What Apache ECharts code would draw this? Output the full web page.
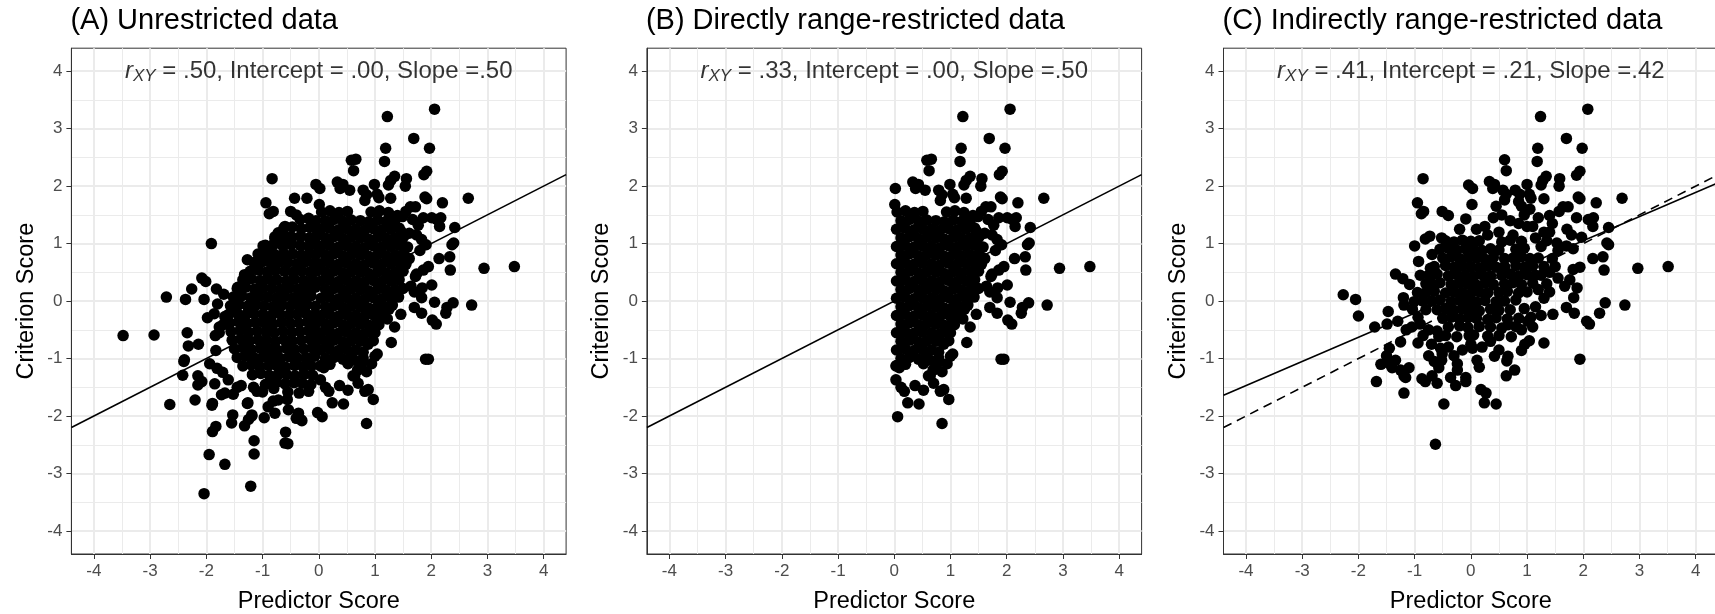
<!DOCTYPE html>
<html><head><meta charset="utf-8">
<script src="https://cdn.jsdelivr.net/npm/echarts@6/dist/echarts.min.js"></script>
<style>html,body{margin:0;padding:0;background:#fff}#chart{width:1715px;height:614px}</style>
</head><body><div id="chart"></div>
<script>
// ---------------- data ----------------
const panelTitles = ['(A) Unrestricted data', '(B) Directly range-restricted data', '(C) Indirectly range-restricted data'];
const corrLabels = ['.50', '.33', '.41'];
const interceptLabels = ['.00', '.00', '.21'];
const slopeLabels = ['.50', '.50', '.42'];
const fitIntercepts = [0.00, 0.00, 0.21];
const fitSlopes = [0.50, 0.50, 0.42];
const populationLine = [0.00, 0.50]; // intercept, slope (dashed reference in C)
const majorTicks = [-4, -3, -2, -1, 0, 1, 2, 3, 4];
const minorTicks = [-3.5, -2.5, -1.5, -0.5, 0.5, 1.5, 2.5, 3.5];
const axisLimits = [-4.4, 4.4];
const annotationAnchor = [0, 4];

// unrestricted sample, predictor < 0
const unrestrictedNeg = [
[-0.83,2.13],[-0.94,1.71],[-0.88,1.52],[-0.81,1.56],[-0.43,1.79],[-0.21,1.79],[-0.05,2.03],[-0.5,1.56],[-0.4,1.5],[-0.6,1.3],
[-0.72,1.19],[-0.78,1.09],[-0.51,1.12],[-0.61,1.02],[-0.99,0.96],[-0.85,0.89],[-1.91,1.0],[-1.27,0.72],[-1.02,0.68],[-0.9,0.8],
[-1.32,0.46],[-1.44,0.24],[-2.08,0.4],[-2.01,0.34],[-2.26,0.21],[-2.37,0.03],[-1.82,0.21],[-1.69,0.12],[-2.04,0.03],[-1.8,-0.05],
[-2.71,0.07],[-1.98,-0.29],[-1.86,-0.22],[-1.67,-0.27],[-3.48,-0.6],[-2.93,-0.59],[-2.34,-0.55],[-1.77,-0.45],[-1.7,-0.41],[-1.84,-0.6],
[-1.77,-0.55],[-2.32,-0.78],[-2.14,-0.75],[-2.39,-1.02],[-2.4,-1.05],[-2.42,-1.29],[-2.15,-1.3],[-2.08,-1.4],[-2.15,-1.46],[-1.85,-1.44],
[-2.2,-1.72],[-2.65,-1.8],[-1.89,-1.78],[-1.9,-1.81],[-1.94,-1.09],[-1.81,-1.17],[-1.71,-1.24],[-1.83,-0.86],[-1.73,-1.63],[-1.67,-1.6],
[-1.61,-1.37],[-1.53,-1.98],[-1.55,-2.12],[-1.32,-2.17],[-1.25,-2.06],[-1.19,-2.0],[-1.83,-2.18],[-1.89,-2.27],[-1.95,-2.67],[-1.67,-2.84],
[-2.04,-3.35],[-1.21,-3.22],[-1.15,-2.43],[-1.15,-2.66],[-0.59,-2.28],[-0.6,-2.47],[-0.55,-2.48],[-0.97,-2.03],[-0.78,-1.95],[-0.9,-1.84],
[-1.27,-1.78],[-1.19,-1.98],[-0.81,-1.74],[-0.72,-1.72],[-0.54,-1.89],[-0.36,-1.95],[-0.32,-2.06],[-0.02,-1.94],[-1.38,-1.47],[-1.45,-1.5],
[-1.16,-1.5],[-1.1,-1.57],[-0.56,-1.71],[-0.4,-2.04],[-0.3,-2.08],[-1.26,-1.77],[-1.52,-1.62],[-1.0,-1.58],[-0.95,-1.45],[-0.8,-1.52],
[-0.33,1.42],[-0.18,1.44],[-0.05,1.4],
[-0.62,1.27],[-0.47,1.29],[-0.31,1.26],[-0.16,1.28],[-0.04,1.25],
[-0.78,1.12],[-0.63,1.14],[-0.47,1.11],[-0.32,1.13],[-0.17,1.1],[-0.05,1.12],
[-0.95,0.97],[-0.8,0.99],[-0.64,0.96],[-0.49,0.98],[-0.33,0.97],[-0.18,0.95],[-0.04,0.98],
[-1.08,0.82],[-0.93,0.84],[-0.78,0.81],[-0.62,0.83],[-0.46,0.82],[-0.31,0.8],[-0.16,0.83],[-0.05,0.81],
[-1.15,0.67],[-1.0,0.69],[-0.85,0.66],[-0.7,0.68],[-0.55,0.67],[-0.39,0.65],[-0.24,0.68],[-0.09,0.66],
[-1.22,0.52],[-1.07,0.54],[-0.92,0.51],[-0.77,0.53],[-0.61,0.52],[-0.46,0.5],[-0.31,0.53],[-0.16,0.51],[-0.04,0.52],
[-1.35,0.37],[-1.2,0.39],[-1.04,0.36],[-0.89,0.38],[-0.74,0.37],[-0.58,0.35],[-0.43,0.38],[-0.27,0.36],[-0.12,0.37],
[-1.45,0.22],[-1.3,0.24],[-1.14,0.21],[-0.99,0.23],[-0.83,0.22],[-0.68,0.2],[-0.52,0.23],[-0.37,0.21],[-0.21,0.22],[-0.06,0.24],
[-1.52,0.07],[-1.37,0.09],[-1.21,0.06],[-1.06,0.08],[-0.91,0.07],[-0.76,0.05],[-0.6,0.08],[-0.45,0.06],[-0.29,0.07],[-0.14,0.09],
[-1.57,-0.08],[-1.42,-0.06],[-1.27,-0.09],[-1.12,-0.07],[-0.97,-0.08],[-0.82,-0.1],[-0.66,-0.07],[-0.51,-0.09],[-0.36,-0.08],[-0.21,-0.06],[-0.06,-0.09],
[-1.6,-0.23],[-1.45,-0.21],[-1.3,-0.24],[-1.15,-0.22],[-0.99,-0.23],[-0.84,-0.25],[-0.69,-0.22],[-0.53,-0.24],[-0.38,-0.23],[-0.23,-0.21],[-0.08,-0.24],
[-1.58,-0.38],[-1.43,-0.36],[-1.27,-0.39],[-1.12,-0.37],[-0.97,-0.38],[-0.81,-0.4],[-0.66,-0.37],[-0.5,-0.39],[-0.35,-0.38],[-0.2,-0.36],[-0.05,-0.39],
[-1.56,-0.53],[-1.4,-0.51],[-1.25,-0.54],[-1.1,-0.52],[-0.94,-0.53],[-0.79,-0.55],[-0.64,-0.52],[-0.48,-0.54],[-0.33,-0.53],[-0.18,-0.51],[-0.04,-0.54],
[-1.54,-0.68],[-1.39,-0.66],[-1.23,-0.69],[-1.08,-0.67],[-0.93,-0.68],[-0.77,-0.7],[-0.62,-0.67],[-0.47,-0.69],[-0.31,-0.68],[-0.16,-0.66],[-0.04,-0.7],
[-1.5,-0.83],[-1.35,-0.81],[-1.2,-0.84],[-1.04,-0.82],[-0.89,-0.83],[-0.74,-0.85],[-0.58,-0.82],[-0.43,-0.84],[-0.27,-0.83],[-0.12,-0.81],
[-1.45,-0.98],[-1.3,-0.96],[-1.14,-0.99],[-0.99,-0.97],[-0.84,-0.98],[-0.68,-1.0],[-0.53,-0.97],[-0.38,-0.99],[-0.22,-0.98],[-0.07,-0.96],
[-1.35,-1.13],[-1.2,-1.11],[-1.05,-1.14],[-0.89,-1.12],[-0.74,-1.13],[-0.59,-1.15],[-0.43,-1.12],[-0.28,-1.14],[-0.13,-1.13],
[-1.18,-1.28],[-1.03,-1.26],[-0.88,-1.29],[-0.72,-1.27],[-0.57,-1.28],[-0.42,-1.3],[-0.26,-1.27],[-0.11,-1.29],
[-0.9,-1.43],[-0.75,-1.41],[-0.6,-1.44],[-0.44,-1.42],[-0.29,-1.43],[-0.14,-1.45],
[-0.55,-1.58],[-0.35,-1.6],[-0.18,-1.57]
];

// unrestricted sample, predictor >= 0 (this is also the directly restricted sample)
const unrestrictedPos = [
[2.06,3.34],[1.22,3.21],[1.69,2.83],[1.97,2.66],[1.19,2.66],[1.17,2.43],[0.58,2.45],[0.66,2.47],[0.62,2.27],[1.92,2.26],
[1.87,2.2],[1.35,2.17],[1.28,2.1],[1.24,2.02],[1.56,2.13],[1.54,2.0],[0.99,2.03],[0.33,2.07],[0.43,2.03],[0.38,1.96],
[0.02,1.96],[0.01,1.68],[0.55,1.93],[0.79,1.93],[0.85,1.85],[0.82,1.75],[1.04,1.86],[1.07,1.8],[1.28,1.79],[1.89,1.81],
[1.92,1.78],[2.66,1.79],[2.2,1.71],[1.63,1.64],[1.72,1.64],[1.55,1.56],[1.49,1.47],[1.4,1.49],[2.1,1.42],[2.17,1.45],
[2.15,1.3],[1.86,1.45],[2.42,1.28],[2.4,1.01],[2.37,0.98],[2.14,0.74],[2.33,0.77],[2.34,0.54],[2.94,0.57],[3.48,0.6],
[2.01,0.28],[2.06,-0.02],[2.39,-0.03],[2.28,-0.11],[2.26,-0.21],[2.72,-0.07],[2.02,-0.33],[2.09,-0.4],[1.7,-0.11],[1.83,-0.21],
[1.9,-1.01],[1.95,-1.01],[1.46,-0.23],[1.35,-0.45],[1.29,-0.72],[1.0,-0.96],[0.85,-2.13],[0.88,-1.54],[0.97,-1.71],[0.82,-1.57],
[0.44,-1.79],[0.37,-1.47],[0.52,-1.55],[0.24,-1.77],[0.18,-1.57],[0.12,-1.5],[0.03,-1.37],[0.06,-2.01],[0.61,-1.3],[0.69,-1.2],
[0.76,-1.09],[0.79,-0.99],[0.52,-1.09],[0.64,-1.03],[0.03,-1.13],[0.09,-1.16],
[1.74,1.15],[1.83,1.07],[1.91,0.98],[1.8,0.88],[1.74,0.47],[1.86,0.54],[1.95,0.6],[1.72,0.43],[1.64,0.26],[1.7,0.16],
[1.83,0.06],[1.84,0.23],[1.61,0.74],[1.49,0.98],[1.43,0.74],[1.46,1.22],[1.52,1.15],[1.61,1.18],[1.67,1.42],[1.77,1.32],[2.01,1.45],
[1.25,-0.14],[1.31,-0.07],[1.16,-0.21],[1.1,-0.28],[1.22,-0.31],[1.07,-0.41],[1.0,-0.55],[0.97,-0.69],[0.88,-0.75],[0.79,-0.89],
[1.04,-0.92],[0.94,-1.09],[0.85,-1.23],[0.7,-1.43],[0.64,-1.3],
[0.05,1.55],[0.2,1.57],[0.36,1.54],[0.51,1.56],[0.93,1.55],[1.08,1.57],[1.24,1.54],
[0.12,1.4],[0.27,1.42],[0.43,1.39],[0.58,1.41],[0.74,1.4],[0.89,1.38],[1.05,1.41],[1.2,1.39],[1.35,1.4],
[0.04,1.25],[0.19,1.27],[0.35,1.24],[0.5,1.26],[0.66,1.25],[0.81,1.23],[0.97,1.26],[1.12,1.24],[1.28,1.25],[1.43,1.27],
[0.12,1.1],[0.27,1.12],[0.43,1.09],[0.58,1.11],[0.74,1.1],[0.89,1.08],[1.05,1.11],[1.2,1.09],[1.36,1.1],[1.51,1.12],
[0.04,0.95],[0.19,0.97],[0.35,0.94],[0.5,0.96],[0.66,0.95],[0.81,0.93],[0.97,0.96],[1.12,0.94],[1.28,0.95],[1.43,0.97],[1.58,0.94],
[0.12,0.8],[0.27,0.82],[0.43,0.79],[0.58,0.81],[0.74,0.8],[0.89,0.78],[1.05,0.81],[1.2,0.79],[1.36,0.8],[1.51,0.82],
[0.04,0.65],[0.19,0.67],[0.35,0.64],[0.5,0.66],[0.66,0.65],[0.81,0.63],[0.97,0.66],[1.12,0.64],[1.28,0.65],[1.43,0.67],[1.55,0.64],
[0.12,0.5],[0.27,0.52],[0.43,0.49],[0.58,0.51],[0.74,0.5],[0.89,0.48],[1.05,0.51],[1.2,0.49],[1.36,0.5],[1.5,0.52],
[0.04,0.35],[0.19,0.37],[0.35,0.34],[0.5,0.36],[0.66,0.35],[0.81,0.33],[0.97,0.36],[1.12,0.34],[1.28,0.35],[1.43,0.37],
[0.12,0.2],[0.27,0.22],[0.43,0.19],[0.58,0.21],[0.74,0.2],[0.89,0.18],[1.05,0.21],[1.2,0.19],[1.36,0.2],[1.5,0.22],
[0.04,0.05],[0.19,0.07],[0.35,0.04],[0.5,0.06],[0.66,0.05],[0.81,0.03],[0.97,0.06],[1.12,0.04],[1.28,0.05],[1.42,0.07],
[0.12,-0.1],[0.27,-0.08],[0.43,-0.11],[0.58,-0.09],[0.74,-0.1],[0.89,-0.12],[1.05,-0.09],[1.2,-0.11],
[0.04,-0.25],[0.19,-0.23],[0.35,-0.26],[0.5,-0.24],[0.66,-0.25],[0.81,-0.27],[0.97,-0.24],[1.1,-0.26],
[0.12,-0.4],[0.27,-0.38],[0.43,-0.41],[0.58,-0.39],[0.74,-0.4],[0.89,-0.42],[1.02,-0.39],
[0.04,-0.55],[0.19,-0.53],[0.35,-0.56],[0.5,-0.54],[0.66,-0.55],[0.81,-0.57],[0.95,-0.54],
[0.12,-0.7],[0.27,-0.68],[0.43,-0.71],[0.58,-0.69],[0.74,-0.7],[0.86,-0.72],
[0.04,-0.85],[0.19,-0.83],[0.35,-0.86],[0.5,-0.84],[0.66,-0.85],
[0.12,-1.0],[0.27,-0.98],[0.43,-1.01],[0.56,-0.99],
[0.04,-1.12],[0.2,-1.1]
];

// indirectly range-restricted sample
const indirectSample = [
[2.08,3.34],[1.24,3.21],[1.7,2.83],[1.98,2.66],[1.19,2.66],[1.18,2.43],[0.6,2.46],[0.63,2.27],[1.94,2.26],[1.88,2.19],
[1.34,2.17],[1.28,2.1],[1.25,2.02],[1.58,2.13],[1.57,2.0],[1.0,2.03],[0.33,2.08],[0.42,2.03],[0.39,1.96],[-0.04,2.02],
[0.03,1.96],[0.02,1.68],[-0.85,2.13],[-0.95,1.71],[-0.88,1.52],[-0.84,1.56],[-0.51,1.56],[-0.4,1.49],[-0.09,1.43],[0.57,1.93],
[0.63,1.86],[0.6,1.76],[0.79,1.93],[0.87,1.86],[0.85,1.73],[1.04,1.86],[1.07,1.79],[1.3,1.78],[1.91,1.81],[1.94,1.78],
[2.69,1.79],[2.23,1.71],[1.64,1.64],[1.73,1.64],[1.57,1.56],[1.4,1.49],[2.09,1.42],[2.18,1.45],[2.17,1.3],[1.88,1.45],
[2.45,1.28],[2.42,1.01],[2.45,0.98],[2.17,0.74],[2.35,0.77],[2.37,0.54],[2.97,0.57],[3.51,0.6],[1.89,0.23],[1.83,0.06],
[2.39,-0.03],[2.29,-0.21],[2.74,-0.07],[2.06,-0.35],[2.11,-0.4],[1.7,-0.11],[1.84,-0.21],[1.94,-1.01],[1.46,-0.23],[1.3,-0.73],
[0.66,-0.96],[0.42,-0.96],[0.11,-1.03],[0.18,-1.54],[0.27,-1.6],[0.24,-1.77],[0.45,-1.79],[-0.63,-2.49],[-0.48,-1.79],[-1.19,-1.6],
[-1.68,-1.4],[-2.27,0.11],[-2.05,0.03],[-2.0,-0.26],[-1.71,-0.45],[-1.47,-0.18],[-1.49,-0.4],[-1.45,-0.82],[-1.45,-1.09],[-1.4,-1.16],
[-1.34,-1.03],[-1.25,-1.2],[-1.19,-1.3],[-1.16,-1.33],[-1.25,-0.71],[-1.34,0.47],[-1.21,0.39],[-1.09,0.29],[-1.2,0.06],[-1.19,-0.07],
[-1.01,-0.01],[-1.04,-0.14],[-0.94,-0.28],[-1.1,-1.16],[-1.0,0.96],[-0.93,0.69],[-0.69,0.81],[-0.73,1.13],[-0.81,1.08],[-0.52,1.1],
[-0.72,0.57],[-0.73,0.35],[-0.94,-0.73],[-0.87,-1.35],[-0.81,-1.4],[-0.69,-1.3],[-0.6,-1.43],[-0.57,-1.16],[-0.52,-1.03],[-0.51,-0.92],
[-0.54,-0.82],[-0.57,-0.62],[-0.6,-0.52],[-0.36,-1.33],[-0.27,-1.47],[-0.24,-1.2],[-0.24,-1.09],[-0.09,-1.33],[-0.09,-1.4],[0.0,-0.75],
[0.03,-0.82],[-0.03,-0.6],[0.63,-1.3],[0.64,-1.04],[0.78,-1.2],[0.9,-0.86],[0.96,-0.75],[1.04,-0.69],[0.72,-0.62],[0.66,-0.41],
[1.01,-0.35],[1.07,-0.28],[1.4,0.16],[1.67,0.26],[1.76,0.37],[1.82,0.55],[1.94,0.59],[1.45,0.74],[1.55,0.88],[1.53,1.01],
[1.7,0.96],[1.82,0.91],[1.97,1.11],[1.79,1.15],[1.71,1.25],
[1.1,1.3],[1.2,1.45],[1.3,1.2],[1.35,1.05],[1.25,0.95],[1.15,1.1],[1.45,1.35],[1.4,1.2],[1.2,0.75],[1.3,0.6],
[1.25,0.45],[1.4,0.5],[1.5,0.6],[1.35,0.3],[1.55,0.4],[1.2,0.2],[1.3,0.05],[1.15,-0.1],[1.25,-0.25],[1.1,-0.45],
[0.9,-0.5],[1.0,1.3],[0.85,1.35],[0.7,1.4],[0.55,1.5],[0.4,1.45],[0.25,1.3],[0.5,1.2],[0.3,1.15],[0.1,1.25],
[-0.2,1.25],[0.75,1.15],[0.95,1.5],[1.05,1.6],[0.9,1.65],[0.45,1.65],
[-0.9,0.45],[-0.8,0.3],[-0.95,0.15],[-0.85,0.0],[-0.8,-0.15],[-0.9,-0.4],[-0.75,-0.5],[-0.85,-0.6],[-1.05,-0.45],[-0.7,-0.75],
[-0.75,-0.95],[-0.65,-1.05],[-0.4,-0.8],[-0.3,-0.95],[-0.15,-0.85],[0.2,-0.8],[0.35,-0.7],[0.5,-0.85],[0.15,-1.15],[-1.3,-0.35],
[-1.15,-0.5],[-1.6,-1.1],[-1.5,-0.95],
[-0.45,1.05],[-0.3,1.03],[-0.15,1.06],[0.0,1.04],[0.15,1.05],[0.55,1.03],[0.7,1.06],[0.9,1.04],
[-0.55,0.9],[-0.4,0.92],[-0.25,0.89],[-0.1,0.91],[0.05,0.9],[0.2,0.88],[0.35,0.91],[0.5,0.89],[0.8,0.9],[0.95,0.92],
[-0.5,0.75],[-0.35,0.77],[-0.2,0.74],[-0.05,0.76],[0.1,0.75],[0.25,0.73],[0.4,0.76],[0.6,0.74],[0.75,0.75],[0.9,0.77],[1.05,0.74],
[-0.65,0.6],[-0.45,0.62],[-0.3,0.59],[-0.15,0.61],[0.0,0.6],[0.15,0.58],[0.3,0.61],[0.45,0.59],[0.6,0.6],[0.8,0.62],[0.95,0.59],[1.1,0.61],
[-0.75,0.45],[-0.6,0.47],[-0.4,0.44],[-0.25,0.46],[-0.1,0.45],[0.05,0.43],[0.2,0.46],[0.35,0.44],[0.55,0.45],[0.7,0.47],[0.85,0.44],[1.0,0.46],[1.15,0.45],
[-0.7,0.3],[-0.55,0.32],[-0.35,0.29],[-0.2,0.31],[-0.05,0.3],[0.1,0.28],[0.25,0.31],[0.4,0.29],[0.6,0.3],[0.75,0.32],[0.9,0.29],[1.1,0.31],
[-0.8,0.15],[-0.65,0.17],[-0.45,0.14],[-0.3,0.16],[-0.15,0.15],[0.0,0.13],[0.15,0.16],[0.3,0.14],[0.5,0.15],[0.65,0.17],[0.85,0.14],[1.0,0.16],
[-0.7,0.0],[-0.55,0.02],[-0.35,-0.01],[-0.2,0.01],[-0.05,0.0],[0.1,-0.02],[0.25,0.01],[0.45,-0.01],[0.6,0.0],[0.8,0.02],
[-0.6,-0.15],[-0.45,-0.13],[-0.3,-0.16],[-0.15,-0.14],[0.0,-0.15],[0.15,-0.17],[0.35,-0.14],[0.5,-0.16],[0.7,-0.15],[0.95,-0.13],
[-0.5,-0.3],[-0.35,-0.28],[-0.2,-0.31],[-0.05,-0.29],[0.1,-0.3],[0.3,-0.32],[0.45,-0.29],[0.65,-0.31],[0.85,-0.3],
[-0.4,-0.45],[-0.2,-0.43],[-0.05,-0.46],[0.15,-0.44],[0.35,-0.45],[0.55,-0.47],[0.8,-0.44],
[-0.45,-0.6],[-0.25,-0.62],[0.05,-0.59],[0.3,-0.61],[0.5,-0.6]
];

// ---------------- chart ----------------
const panelData = [unrestrictedNeg.concat(unrestrictedPos), unrestrictedPos, indirectSample];
const FONT = '"Liberation Sans", Arial, Helvetica, sans-serif';
const gridLefts = [71.4, 646.9, 1223.5];
const gridTop = 48.2, gridW = 494.7, gridH = 505.8;

const chart = echarts.init(document.getElementById('chart'), null, {renderer: 'canvas'});

const grids = [], xAxes = [], yAxes = [], series = [], titles = [];
function lineEnds(b, m) { return axisLimits.map(x => [x, b + m * x]); }

for (let i = 0; i < 3; i++) {
  grids.push({left: gridLefts[i], top: gridTop, width: gridW, height: gridH, show: true,
              borderColor: '#333333', borderWidth: 1, backgroundColor: 'transparent',
              containLabel: false, outerBoundsMode: 'none'});
  titles.push({text: panelTitles[i], left: gridLefts[i] - 1, top: 6, padding: 0,
               textStyle: {fontFamily: FONT, fontSize: 29, fontWeight: 'normal', color: '#000'}});
  const common = {type: 'value', gridIndex: i, min: axisLimits[0], max: axisLimits[1]};
  xAxes.push(Object.assign({}, common, {
    position: 'bottom',
    axisLine: {show: true, onZero: false, lineStyle: {color: '#333333', width: 1}},
    axisTick: {show: true, customValues: majorTicks, length: 5, lineStyle: {color: '#333333', width: 1}},
    axisLabel: {show: true, customValues: majorTicks, color: '#4D4D4D', fontSize: 17, margin: 9, fontFamily: FONT},
    splitLine: {show: true, lineStyle: {color: '#EBEBEB', width: 2}},
    name: 'Predictor Score', nameLocation: 'middle', nameGap: 36,
    nameTextStyle: {fontSize: 23.5, color: '#000', fontFamily: FONT}
  }));
  yAxes.push(Object.assign({}, common, {
    position: 'left',
    axisLine: {show: true, onZero: false, lineStyle: {color: '#333333', width: 1}},
    axisTick: {show: true, customValues: majorTicks, length: 5, lineStyle: {color: '#333333', width: 1}},
    axisLabel: {show: true, customValues: majorTicks, color: '#4D4D4D', fontSize: 17, margin: 9, fontFamily: FONT},
    splitLine: {show: true, lineStyle: {color: '#EBEBEB', width: 2}},
    name: 'Criterion Score', nameLocation: 'middle', nameGap: 33,
    nameTextStyle: {fontSize: 23.5, color: '#000', fontFamily: FONT}
  }));
  xAxes.push(Object.assign({}, common, {
    position: 'top',
    axisLine: {show: false, onZero: false}, axisLabel: {show: false},
    axisTick: {show: false, customValues: minorTicks},
    splitLine: {show: true, lineStyle: {color: '#EBEBEB', width: 1}}
  }));
  yAxes.push(Object.assign({}, common, {
    position: 'right',
    axisLine: {show: false, onZero: false}, axisLabel: {show: false},
    axisTick: {show: false, customValues: minorTicks},
    splitLine: {show: true, lineStyle: {color: '#EBEBEB', width: 1}}
  }));

  const xi = 2 * i, yi = 2 * i;
  series.push({
    type: 'scatter', xAxisIndex: xi, yAxisIndex: yi, data: panelData[i],
    symbol: 'circle', symbolSize: 11.5, itemStyle: {color: '#000', opacity: 1},
    silent: true, z: 2, animation: false, large: false
  });
  if (i === 2) {
    series.push({
      type: 'line', xAxisIndex: xi, yAxisIndex: yi, data: lineEnds(populationLine[0], populationLine[1]),
      showSymbol: false, symbol: 'none', silent: true, z: 3, animation: false,
      lineStyle: {color: '#000', width: 1.6, type: [9, 6]}
    });
  }
  series.push({
    type: 'line', xAxisIndex: xi, yAxisIndex: yi, data: lineEnds(fitIntercepts[i], fitSlopes[i]),
    showSymbol: false, symbol: 'none', silent: true, z: 3, animation: false,
    lineStyle: {color: '#000', width: 1.6}
  });
  series.push({
    type: 'scatter', xAxisIndex: xi, yAxisIndex: yi, data: [annotationAnchor],
    symbolSize: 0, silent: true, z: 4, animation: false,
    label: {
      show: true, position: 'inside', fontFamily: FONT,
      formatter: '{r|r}{s|XY}{t| = ' + corrLabels[i] + ', Intercept = ' + interceptLabels[i] + ', Slope =' + slopeLabels[i] + '}',
      rich: {
        r: {fontSize: 24, fontStyle: 'italic', color: '#000', fontFamily: FONT},
        s: {fontSize: 17, fontStyle: 'italic', color: '#000', fontFamily: FONT, padding: [10, 0, 0, 0]},
        t: {fontSize: 24, color: '#000', fontFamily: FONT}
      }
    }
  });
}

chart.setOption({
  animation: false,
  backgroundColor: '#ffffff',
  textStyle: {fontFamily: FONT},
  title: titles,
  grid: grids,
  xAxis: xAxes,
  yAxis: yAxes,
  series: series
});
</script>
</body></html>
